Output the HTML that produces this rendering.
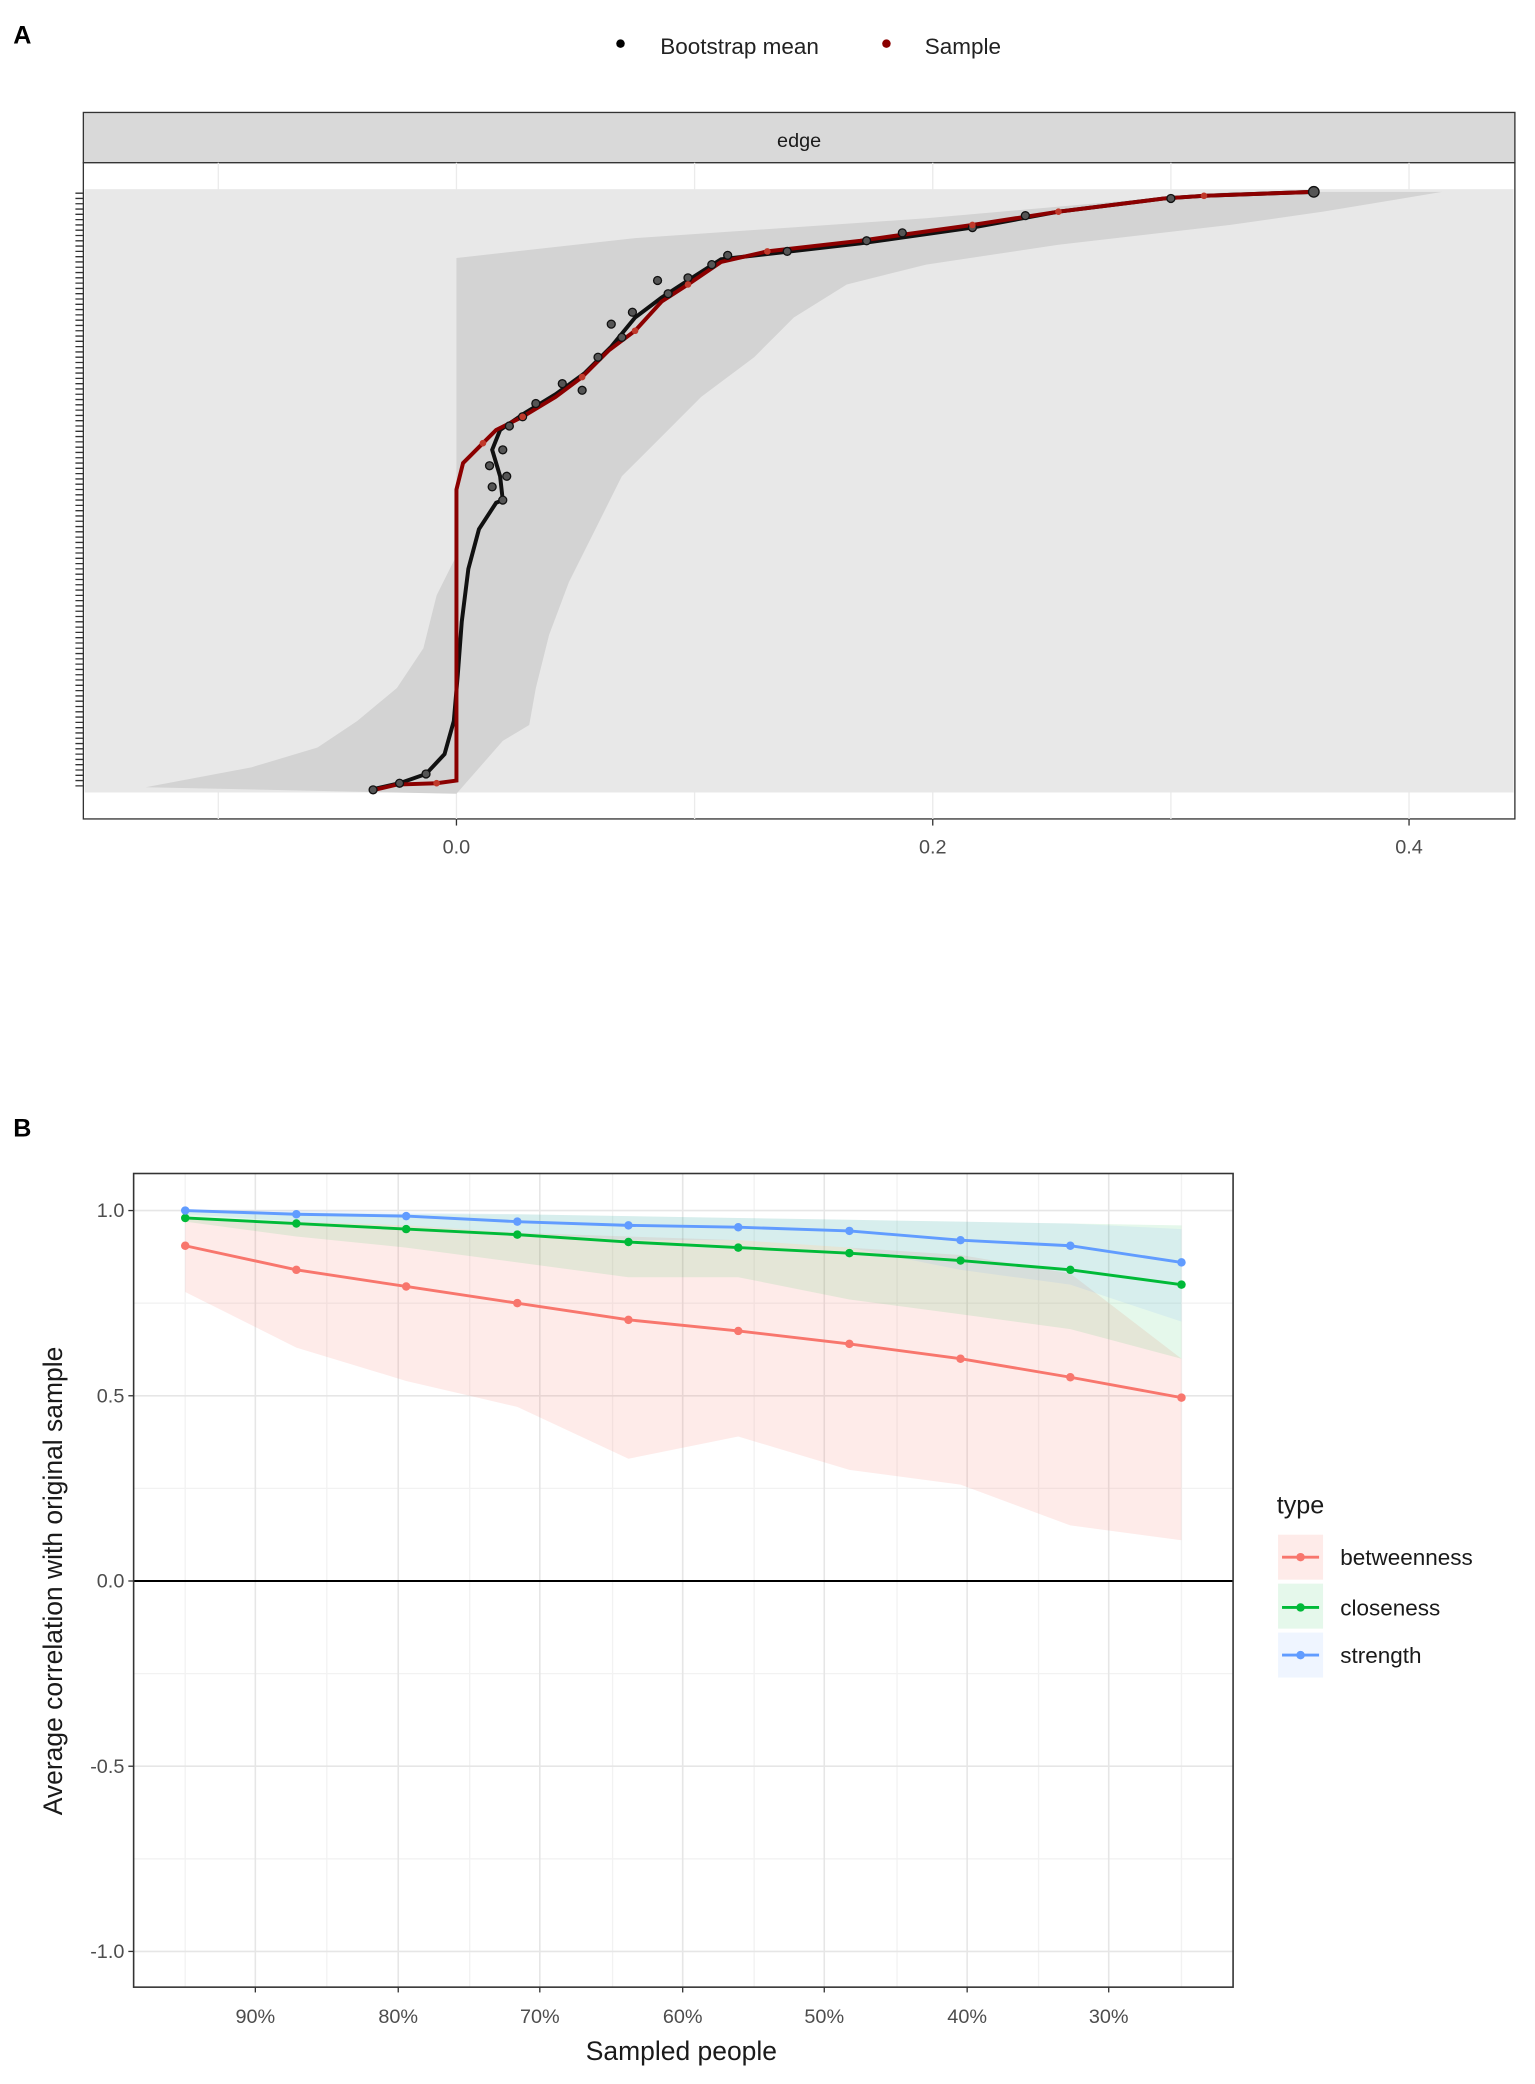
<!DOCTYPE html>
<html><head><meta charset="utf-8"><style>
html,body{margin:0;padding:0;background:#fff;}
svg{display:block;font-family:"Liberation Sans",sans-serif;}
</style></head><body>
<svg width="1535" height="2084" viewBox="0 0 1160.2 1575.2" preserveAspectRatio="none" xmlns="http://www.w3.org/2000/svg">
<rect width="1160.2" height="1575.2" fill="#fff"/>
<!-- Panel A -->
<text x="10" y="33" font-size="19" font-weight="bold">A</text>
<circle cx="469" cy="33" r="3.2" fill="#000"/>
<text x="499" y="41" font-size="17" fill="#222">Bootstrap mean</text>
<circle cx="670" cy="33" r="3.2" fill="#8b0000"/>
<text x="699" y="41" font-size="17" fill="#222">Sample</text>
<rect x="63" y="85" width="1082" height="38" fill="#d9d9d9" stroke="#333" stroke-width="1"/>
<text x="604" y="111" font-size="15" text-anchor="middle" fill="#1a1a1a">edge</text>
<rect x="63" y="123" width="1082" height="496" fill="#fff" stroke="#333" stroke-width="1"/>
<g stroke="#ebebeb" stroke-width="1">
<line x1="165" y1="123" x2="165" y2="619"/><line x1="345" y1="123" x2="345" y2="619"/><line x1="525" y1="123" x2="525" y2="619"/><line x1="705" y1="123" x2="705" y2="619"/><line x1="885" y1="123" x2="885" y2="619"/><line x1="1065" y1="123" x2="1065" y2="619"/>
</g>
<rect x="64" y="143" width="1080" height="456" fill="#e8e8e8"/>
<polygon fill="#d3d3d3" points="930,145 1090,145 1060,150 1000,160 930,170 800,185 700,200 640,215 600,240 570,270 530,300 500,330 470,360 450,400 430,440 415,480 405,520 400,548 380,560 345,600 110,595 190,580 240,565 270,545 300,520 320,490 330,450 345,420 345,195 480,180 700,165 870,150"/>
<g fill="#333">
<rect x="56" y="145" width="7" height="452" fill="none"/>
</g>
<g stroke="#333" stroke-width="1">
<path d="M57 146H63M57 150H63M57 154H63M57 158H63M57 162H63M57 166H63M57 170H63M57 174H63M57 178H63M57 182H63M57 186H63M57 190H63M57 194H63M57 198H63M57 202H63M57 206H63M57 210H63M57 214H63M57 218H63M57 222H63M57 226H63M57 230H63M57 234H63M57 238H63M57 242H63M57 246H63M57 250H63M57 254H63M57 258H63M57 262H63M57 266H63M57 270H63M57 274H63M57 278H63M57 282H63M57 286H63M57 290H63M57 294H63M57 298H63M57 302H63M57 306H63M57 310H63M57 314H63M57 318H63M57 322H63M57 326H63M57 330H63M57 334H63M57 338H63M57 342H63M57 346H63M57 350H63M57 354H63M57 358H63M57 362H63M57 366H63M57 370H63M57 374H63M57 378H63M57 382H63M57 386H63M57 390H63M57 394H63M57 398H63M57 402H63M57 406H63M57 410H63M57 414H63M57 418H63M57 422H63M57 426H63M57 430H63M57 434H63M57 438H63M57 442H63M57 446H63M57 450H63M57 454H63M57 458H63M57 462H63M57 466H63M57 470H63M57 474H63M57 478H63M57 482H63M57 486H63M57 490H63M57 494H63M57 498H63M57 502H63M57 506H63M57 510H63M57 514H63M57 518H63M57 522H63M57 526H63M57 530H63M57 534H63M57 538H63M57 542H63M57 546H63M57 550H63M57 554H63M57 558H63M57 562H63M57 566H63M57 570H63M57 574H63M57 578H63M57 582H63M57 586H63M57 590H63M57 594H63"/>
</g>
<polyline fill="none" stroke="#111" stroke-width="3" points="993,145 910,148 880,150 800,160 735,172 650,184 580,192 545,196 520,212 500,225 480,240 462,262 442,282 420,298 397,312 378,325 372,340 378,360 380,378 375,380 362,400 354,430 349,470 346,510 343,545 336,570 322,585 302,592 280,597"/>
<polyline fill="none" stroke="#8b0000" stroke-width="3" points="993,145 910,148 880,150 800,160 735,170 650,182 580,190 545,198 520,215 500,228 480,250 460,265 440,285 420,300 395,315 375,325 365,335 350,350 345,370 345,590 330,592 300,593 283,597"/>
<g fill="#555" stroke="#111" stroke-width="1">
<circle cx="993" cy="145" r="4"/><circle cx="885" cy="150" r="3"/><circle cx="775" cy="163" r="3"/><circle cx="735" cy="172" r="3"/><circle cx="682" cy="176" r="3"/><circle cx="655" cy="182" r="3"/><circle cx="595" cy="190" r="3"/><circle cx="550" cy="193" r="3"/><circle cx="538" cy="200" r="3"/><circle cx="520" cy="210" r="3"/><circle cx="497" cy="212" r="3"/><circle cx="505" cy="222" r="3"/><circle cx="478" cy="236" r="3"/><circle cx="462" cy="245" r="3"/><circle cx="470" cy="255" r="3"/><circle cx="452" cy="270" r="3"/><circle cx="425" cy="290" r="3"/><circle cx="440" cy="295" r="3"/><circle cx="405" cy="305" r="3"/><circle cx="395" cy="315" r="3"/><circle cx="385" cy="322" r="3"/><circle cx="380" cy="340" r="3"/><circle cx="370" cy="352" r="3"/><circle cx="383" cy="360" r="3"/><circle cx="372" cy="368" r="3"/><circle cx="380" cy="378" r="3"/><circle cx="282" cy="597" r="3"/><circle cx="302" cy="592" r="3"/><circle cx="322" cy="585" r="3"/>
</g>
<g fill="#c0392b"><circle cx="910" cy="148" r="2.5"/><circle cx="800" cy="160" r="2.5"/><circle cx="735" cy="170" r="2.5"/><circle cx="580" cy="190" r="2.5"/><circle cx="520" cy="215" r="2.5"/><circle cx="480" cy="250" r="2.5"/><circle cx="440" cy="285" r="2.5"/><circle cx="395" cy="315" r="2.5"/><circle cx="365" cy="335" r="2.5"/><circle cx="330" cy="592" r="2.5"/></g>
<g stroke="#333"><line x1="345" y1="619" x2="345" y2="624"/><line x1="705" y1="619" x2="705" y2="624"/><line x1="1065" y1="619" x2="1065" y2="624"/></g>
<g font-size="15" fill="#4d4d4d" text-anchor="middle"><text x="345" y="645">0.0</text><text x="705" y="645">0.2</text><text x="1065" y="645">0.4</text></g>

<!-- Panel B -->
<text x="10" y="859" font-size="19" font-weight="bold">B</text>
<rect x="101" y="887" width="831" height="615" fill="#fff"/>
<g stroke="#f2f2f2" stroke-width="1">
<line x1="101" y1="985" x2="932" y2="985"/><line x1="101" y1="1125" x2="932" y2="1125"/><line x1="101" y1="1265" x2="932" y2="1265"/><line x1="101" y1="1405" x2="932" y2="1405"/>
<line x1="140" y1="887" x2="140" y2="1502"/><line x1="247" y1="887" x2="247" y2="1502"/><line x1="355" y1="887" x2="355" y2="1502"/><line x1="463" y1="887" x2="463" y2="1502"/><line x1="570" y1="887" x2="570" y2="1502"/><line x1="678" y1="887" x2="678" y2="1502"/><line x1="785" y1="887" x2="785" y2="1502"/><line x1="893" y1="887" x2="893" y2="1502"/>
</g>
<g stroke="#e6e6e6" stroke-width="1.2">
<line x1="101" y1="915" x2="932" y2="915"/><line x1="101" y1="1055" x2="932" y2="1055"/><line x1="101" y1="1335" x2="932" y2="1335"/><line x1="101" y1="1475" x2="932" y2="1475"/>
<line x1="193" y1="887" x2="193" y2="1502"/><line x1="301" y1="887" x2="301" y2="1502"/><line x1="408" y1="887" x2="408" y2="1502"/><line x1="516" y1="887" x2="516" y2="1502"/><line x1="623" y1="887" x2="623" y2="1502"/><line x1="731" y1="887" x2="731" y2="1502"/><line x1="838" y1="887" x2="838" y2="1502"/>
</g>
<polygon fill="#F8766D" fill-opacity="0.15" points="140,920.6 224,923.4 307,926.2 391,931.8 475,934.6 558,937.4 642,943 726,948.6 809,962.6 893,1027 893,1164.2 809,1153 726,1122.2 642,1111 558,1085.8 475,1102.6 391,1063.4 307,1043.8 224,1018.6 140,976.6"/>
<polygon fill="#00BA38" fill-opacity="0.1" points="140,915 224,916.4 307,917.8 391,917.8 475,919.2 558,920.6 642,922 726,923.4 809,924.8 893,926.2 893,1027 809,1004.6 726,993.4 642,982.2 558,965.4 475,965.4 391,954.2 307,943 224,934.6 140,923.4"/>
<polygon fill="#619CFF" fill-opacity="0.1" points="140,915 224,915 307,916.4 391,917.8 475,919.2 558,920.6 642,922 726,923.4 809,924.8 893,929 893,999 809,971 726,959.8 642,943 558,937.4 475,937.4 391,931.8 307,926.2 224,923.4 140,917.8"/>
<line x1="101" y1="1195" x2="932" y2="1195" stroke="#000" stroke-width="1.5"/>
<g fill="none" stroke-width="2.2">
<polyline stroke="#F8766D" points="140,941.6 224,959.8 307,972.4 391,985 475,997.6 558,1006 642,1015.8 726,1027 809,1041 893,1056.4"/>
<polyline stroke="#00BA38" points="140,920.6 224,924.8 307,929 391,933.2 475,938.8 558,943 642,947.2 726,952.8 809,959.8 893,971"/>
<polyline stroke="#619CFF" points="140,915 224,917.8 307,919.2 391,923.4 475,926.2 558,927.6 642,930.4 726,937.4 809,941.6 893,954.2"/>
</g>
<g fill="#F8766D"><circle cx="140" cy="941.6" r="3.2"/><circle cx="224" cy="959.8" r="3.2"/><circle cx="307" cy="972.4" r="3.2"/><circle cx="391" cy="985" r="3.2"/><circle cx="475" cy="997.6" r="3.2"/><circle cx="558" cy="1006" r="3.2"/><circle cx="642" cy="1015.8" r="3.2"/><circle cx="726" cy="1027" r="3.2"/><circle cx="809" cy="1041" r="3.2"/><circle cx="893" cy="1056.4" r="3.2"/></g>
<g fill="#00BA38"><circle cx="140" cy="920.6" r="3.2"/><circle cx="224" cy="924.8" r="3.2"/><circle cx="307" cy="929" r="3.2"/><circle cx="391" cy="933.2" r="3.2"/><circle cx="475" cy="938.8" r="3.2"/><circle cx="558" cy="943" r="3.2"/><circle cx="642" cy="947.2" r="3.2"/><circle cx="726" cy="952.8" r="3.2"/><circle cx="809" cy="959.8" r="3.2"/><circle cx="893" cy="971" r="3.2"/></g>
<g fill="#619CFF"><circle cx="140" cy="915" r="3.2"/><circle cx="224" cy="917.8" r="3.2"/><circle cx="307" cy="919.2" r="3.2"/><circle cx="391" cy="923.4" r="3.2"/><circle cx="475" cy="926.2" r="3.2"/><circle cx="558" cy="927.6" r="3.2"/><circle cx="642" cy="930.4" r="3.2"/><circle cx="726" cy="937.4" r="3.2"/><circle cx="809" cy="941.6" r="3.2"/><circle cx="893" cy="954.2" r="3.2"/></g>
<rect x="101" y="887" width="831" height="615" fill="none" stroke="#333" stroke-width="1.2"/>
<g stroke="#333"><line x1="97" y1="915" x2="101" y2="915"/><line x1="97" y1="1055" x2="101" y2="1055"/><line x1="97" y1="1195" x2="101" y2="1195"/><line x1="97" y1="1335" x2="101" y2="1335"/><line x1="97" y1="1475" x2="101" y2="1475"/>
<line x1="193" y1="1502" x2="193" y2="1506"/><line x1="301" y1="1502" x2="301" y2="1506"/><line x1="408" y1="1502" x2="408" y2="1506"/><line x1="516" y1="1502" x2="516" y2="1506"/><line x1="623" y1="1502" x2="623" y2="1506"/><line x1="731" y1="1502" x2="731" y2="1506"/><line x1="838" y1="1502" x2="838" y2="1506"/></g>
<g font-size="15" fill="#4d4d4d" text-anchor="end"><text x="94" y="920">1.0</text><text x="94" y="1060">0.5</text><text x="94" y="1200">0.0</text><text x="94" y="1340">-0.5</text><text x="94" y="1480">-1.0</text></g>
<g font-size="15" fill="#4d4d4d" text-anchor="middle"><text x="193" y="1529">90%</text><text x="301" y="1529">80%</text><text x="408" y="1529">70%</text><text x="516" y="1529">60%</text><text x="623" y="1529">50%</text><text x="731" y="1529">40%</text><text x="838" y="1529">30%</text></g>
<text x="515" y="1557" font-size="20" text-anchor="middle" fill="#1a1a1a">Sampled people</text>
<text transform="translate(47,1195) rotate(-90)" font-size="20" text-anchor="middle" fill="#1a1a1a">Average correlation with original sample</text>
<text x="965" y="1144" font-size="19" fill="#1a1a1a">type</text>
<rect x="966" y="1160" width="34" height="34" fill="#F8766D" fill-opacity="0.15"/>
<rect x="966" y="1197" width="34" height="34" fill="#00BA38" fill-opacity="0.1"/>
<rect x="966" y="1234" width="34" height="34" fill="#619CFF" fill-opacity="0.1"/>
<line x1="969" y1="1177" x2="997" y2="1177" stroke="#F8766D" stroke-width="2.2"/><circle cx="983" cy="1177" r="3.2" fill="#F8766D"/>
<line x1="969" y1="1215" x2="997" y2="1215" stroke="#00BA38" stroke-width="2.2"/><circle cx="983" cy="1215" r="3.2" fill="#00BA38"/>
<line x1="969" y1="1251" x2="997" y2="1251" stroke="#619CFF" stroke-width="2.2"/><circle cx="983" cy="1251" r="3.2" fill="#619CFF"/>
<g font-size="17" fill="#1a1a1a"><text x="1013" y="1183">betweenness</text><text x="1013" y="1221">closeness</text><text x="1013" y="1257">strength</text></g>
</svg>
</body></html>
